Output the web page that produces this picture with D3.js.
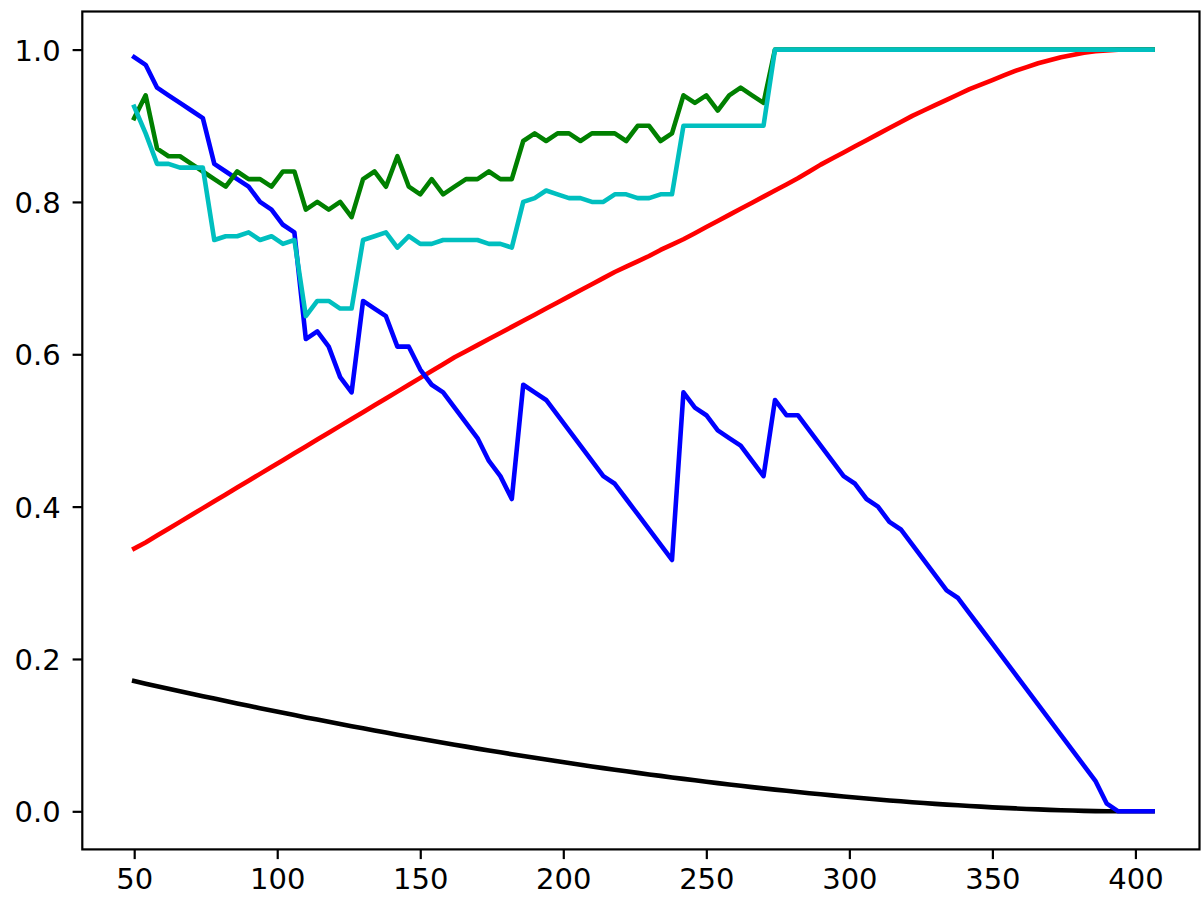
<!DOCTYPE html>
<html>
<head>
<meta charset="utf-8">
<script src="https://cdn.jsdelivr.net/npm/d3@7"></script>
<style>
  html, body { margin: 0; padding: 0; background: #fff; }
  svg { display: block; }
  .tick text { font-family: "DejaVu Sans", sans-serif; font-size: 29px; fill: #000; }
</style>
</head>
<body>
<svg id="chart" width="1204" height="897"></svg>
<script>
// x positions: 50, 54, ..., 406
const xStart = 50, xStep = 4, nPoints = 90;
const xValues = Array.from({length: nPoints}, (_, i) => xStart + xStep * i);

const blackSeries = [0.1710,0.1676,0.1643,0.1609,0.1577,0.1544,0.1511,0.1480,0.1448,0.1416,
  0.1385,0.1354,0.1324,0.1293,0.1263,0.1233,0.1204,0.1175,0.1146,0.1117,
  0.1089,0.1061,0.1034,0.1006,0.0979,0.0952,0.0926,0.0900,0.0874,0.0849,
  0.0823,0.0799,0.0774,0.0750,0.0726,0.0702,0.0679,0.0656,0.0633,0.0611,
  0.0589,0.0567,0.0546,0.0525,0.0505,0.0484,0.0465,0.0445,0.0426,0.0407,
  0.0388,0.0370,0.0352,0.0335,0.0318,0.0301,0.0285,0.0269,0.0253,0.0238,
  0.0224,0.0209,0.0195,0.0182,0.0169,0.0156,0.0143,0.0132,0.0120,0.0109,
  0.0098,0.0088,0.0079,0.0069,0.0061,0.0052,0.0045,0.0038,0.0031,0.0025,
  0.0019,0.0014,0.0010,0.0006,0.0003,0.0001,0,0,0,0];

const redSeries = [0.345,0.353,0.362,0.371,0.380,0.389,0.398,0.407,0.416,0.425,
  0.434,0.443,0.452,0.461,0.470,0.479,0.488,0.497,0.506,0.515,
  0.524,0.533,0.542,0.551,0.560,0.569,0.578,0.587,0.596,0.604,
  0.612,0.620,0.628,0.636,0.644,0.652,0.660,0.668,0.676,0.684,
  0.692,0.700,0.708,0.715,0.722,0.729,0.737,0.744,0.751,0.759,
  0.767,0.775,0.783,0.791,0.799,0.807,0.815,0.823,0.831,0.840,
  0.849,0.857,0.865,0.873,0.881,0.889,0.897,0.905,0.913,0.920,
  0.927,0.934,0.941,0.948,0.954,0.960,0.966,0.972,0.977,0.982,
  0.986,0.990,0.993,0.996,0.998,0.999,1.000,1.000,1.000,1.000];

const blueSeries = [0.99,0.98,0.95,0.94,0.93,0.92,0.91,0.85,0.84,0.83,
  0.82,0.80,0.79,0.77,0.76,0.62,0.63,0.61,0.57,0.55,
  0.67,0.66,0.65,0.61,0.61,0.58,0.56,0.55,0.53,0.51,
  0.49,0.46,0.44,0.41,0.56,0.55,0.54,0.52,0.50,0.48,
  0.46,0.44,0.43,0.41,0.39,0.37,0.35,0.33,0.55,0.53,
  0.52,0.50,0.49,0.48,0.46,0.44,0.54,0.52,0.52,0.50,
  0.48,0.46,0.44,0.43,0.41,0.40,0.38,0.37,0.35,0.33,
  0.31,0.29,0.28,0.26,0.24,0.22,0.20,0.18,0.16,0.14,
  0.12,0.10,0.08,0.06,0.04,0.01,0.0,0.0,0.0,0.0];

const greenSeries = [0.91,0.94,0.87,0.86,0.86,0.85,0.84,0.83,0.82,0.84,
  0.83,0.83,0.82,0.84,0.84,0.79,0.80,0.79,0.80,0.78,
  0.83,0.84,0.82,0.86,0.82,0.81,0.83,0.81,0.82,0.83,
  0.83,0.84,0.83,0.83,0.88,0.89,0.88,0.89,0.89,0.88,
  0.89,0.89,0.89,0.88,0.90,0.90,0.88,0.89,0.94,0.93,
  0.94,0.92,0.94,0.95,0.94,0.93,1,1,1,1,
  1,1,1,1,1,1,1,1,1,1,
  1,1,1,1,1,1,1,1,1,1,
  1,1,1,1,1,1,1,1,1,1];

const cyanSeries = [0.925,0.89,0.85,0.85,0.845,0.845,0.845,0.75,0.755,0.755,
  0.76,0.75,0.755,0.745,0.75,0.65,0.67,0.67,0.66,0.66,
  0.75,0.755,0.76,0.74,0.755,0.745,0.745,0.75,0.75,0.75,
  0.75,0.745,0.745,0.74,0.80,0.805,0.815,0.81,0.805,0.805,
  0.80,0.80,0.81,0.81,0.805,0.805,0.81,0.81,0.90,0.90,
  0.90,0.90,0.90,0.90,0.90,0.90,1,1,1,1,
  1,1,1,1,1,1,1,1,1,1,
  1,1,1,1,1,1,1,1,1,1,
  1,1,1,1,1,1,1,1,1,1];

const xTickValues = [50, 100, 150, 200, 250, 300, 350, 400];
const yTickValues = [0.0, 0.2, 0.4, 0.6, 0.8, 1.0];

const seriesList = [
  {name: "black", values: blackSeries, color: "#000000"},
  {name: "red", values: redSeries, color: "#ff0000"},
  {name: "blue", values: blueSeries, color: "#0000ff"},
  {name: "green", values: greenSeries, color: "#008000"},
  {name: "cyan", values: cyanSeries, color: "#00bfbf"}
];

const plot = {left: 82.3, top: 11.5, right: 1199.5, bottom: 849.4};
const svg = d3.select("#chart");

const x = d3.scaleLinear().domain([31.86, 422.4]).range([plot.left, plot.right]);
const y = d3.scaleLinear().domain([-0.05, 1.05]).range([plot.bottom, plot.top]);

const line = d3.line().x((d, i) => x(xValues[i])).y(d => y(d));

const lw = 4.6;
svg.append("g").selectAll("path").data(seriesList).join("path")
  .attr("d", s => line(s.values))
  .attr("fill", "none")
  .attr("stroke", s => s.color)
  .attr("stroke-width", lw)
  .attr("stroke-linejoin", "round")
  .attr("stroke-linecap", "square");

const tickLen = 9.7, tickW = 2.2;

const xAxis = svg.append("g").attr("transform", `translate(0,${plot.bottom})`)
  .call(d3.axisBottom(x).tickValues(xTickValues).tickFormat(d3.format("d"))
    .tickSize(tickLen).tickSizeOuter(0).tickPadding(9));
xAxis.select(".domain").remove();
xAxis.selectAll(".tick line").attr("stroke", "#000").attr("stroke-width", tickW);
xAxis.selectAll(".tick text").attr("dy", "0.71em");

const yAxis = svg.append("g").attr("transform", `translate(${plot.left},0)`)
  .call(d3.axisLeft(y).tickValues(yTickValues).tickFormat(d3.format(".1f"))
    .tickSize(tickLen).tickSizeOuter(0).tickPadding(12));
yAxis.select(".domain").remove();
yAxis.selectAll(".tick line").attr("stroke", "#000").attr("stroke-width", tickW);
yAxis.selectAll(".tick text").attr("dy", "0.36em");

svg.append("rect")
  .attr("x", plot.left).attr("y", plot.top)
  .attr("width", plot.right - plot.left).attr("height", plot.bottom - plot.top)
  .attr("fill", "none").attr("stroke", "#000").attr("stroke-width", tickW);
</script>
</body>
</html>
